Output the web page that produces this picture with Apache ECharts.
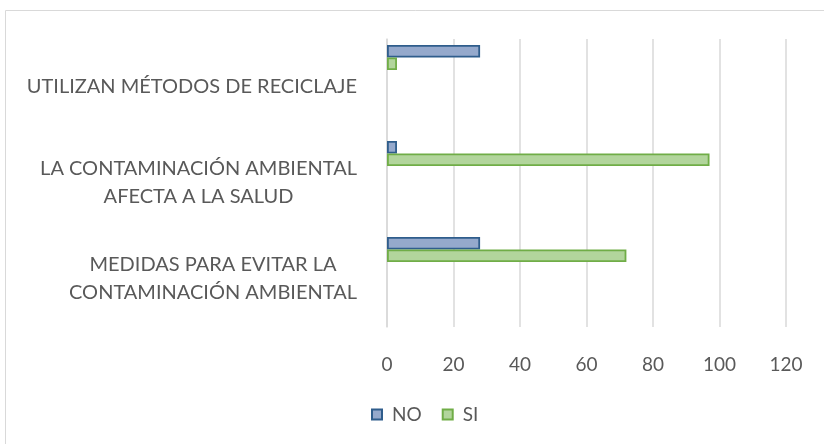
<!DOCTYPE html>
<html>
<head>
<meta charset="utf-8">
<script src="https://cdn.jsdelivr.net/npm/echarts@6/dist/echarts.min.js"></script>
<style>
  html, body { margin: 0; padding: 0; background: #fff; }
  #chart { width: 824px; height: 444px; }
</style>
</head>
<body>
<div id="chart"></div>
<script>
// categories listed top to bottom, as in the picture
const categories = [
  'UTILIZAN MÉTODOS DE RECICLAJE',
  'LA CONTAMINACIÓN AMBIENTAL\nAFECTA A LA SALUD',
  'MEDIDAS PARA EVITAR LA\nCONTAMINACIÓN AMBIENTAL'
];
const noValues = [28, 3, 28];
const siValues = [3, 97, 72];
const spacer = [null, null, null]; // empty slot Excel leaves below each pair
const xTicks = [0, 20, 40, 60, 80, 100, 120];

const chart = echarts.init(document.getElementById('chart'));

const labelFont = 'Lato, "Liberation Sans", sans-serif';

chart.setOption({
  animation: false,
  textStyle: { fontFamily: labelFont },
  graphic: [{
    type: 'rect',
    shape: { x: 5.5, y: 10.5, width: 900, height: 500 },
    style: { fill: 'none', stroke: '#d9d9d9', lineWidth: 1 },
    silent: true
  }],
  grid: { left: 387, right: 38, top: 39, bottom: 117, containLabel: false },
  legend: {
    data: ['NO', 'SI'],
    left: 366,
    top: 400,
    itemWidth: 10,
    itemHeight: 10,
    itemGap: 20,
    icon: 'rect',
    textStyle: { fontSize: 19, color: '#595959', fontFamily: labelFont, padding: [0, 0, 0, 5] }
  },
  xAxis: {
    type: 'value',
    min: xTicks[0],
    max: xTicks[xTicks.length - 1],
    interval: xTicks[1] - xTicks[0],
    axisLine: { show: false },
    axisTick: { show: false },
    splitLine: { lineStyle: { color: '#d9d9d9', width: 1.5 } },
    axisLabel: { fontSize: 19, color: '#595959', margin: 28 }
  },
  yAxis: {
    type: 'category',
    data: categories,
    inverse: true,
    axisLine: { lineStyle: { color: '#d9d9d9', width: 1.5 } },
    axisTick: { show: false },
    axisLabel: {
      margin: 30,
      align: 'right',
      formatter: v => v.split('\n').map(s => '{c|' + s + '}').join('\n'),
      rich: {
        c: { align: 'center', fontSize: 20, lineHeight: 28, color: '#595959', fontFamily: labelFont }
      }
    }
  },
  series: [
    {
      name: 'NO', type: 'bar', data: noValues, barWidth: 12.5, barGap: '0%',
      itemStyle: { color: '#95a9cc', borderColor: '#2f5d8c', borderWidth: 1.8 }
    },
    {
      name: 'SI', type: 'bar', data: siValues, barWidth: 12.5, barGap: '0%',
      itemStyle: { color: '#b2d59c', borderColor: '#70ad47', borderWidth: 1.8 }
    },
    {
      name: 'spacer', type: 'bar', data: spacer, barWidth: 59, barGap: '0%',
      silent: true
    }
  ]
});
</script>
</body>
</html>
